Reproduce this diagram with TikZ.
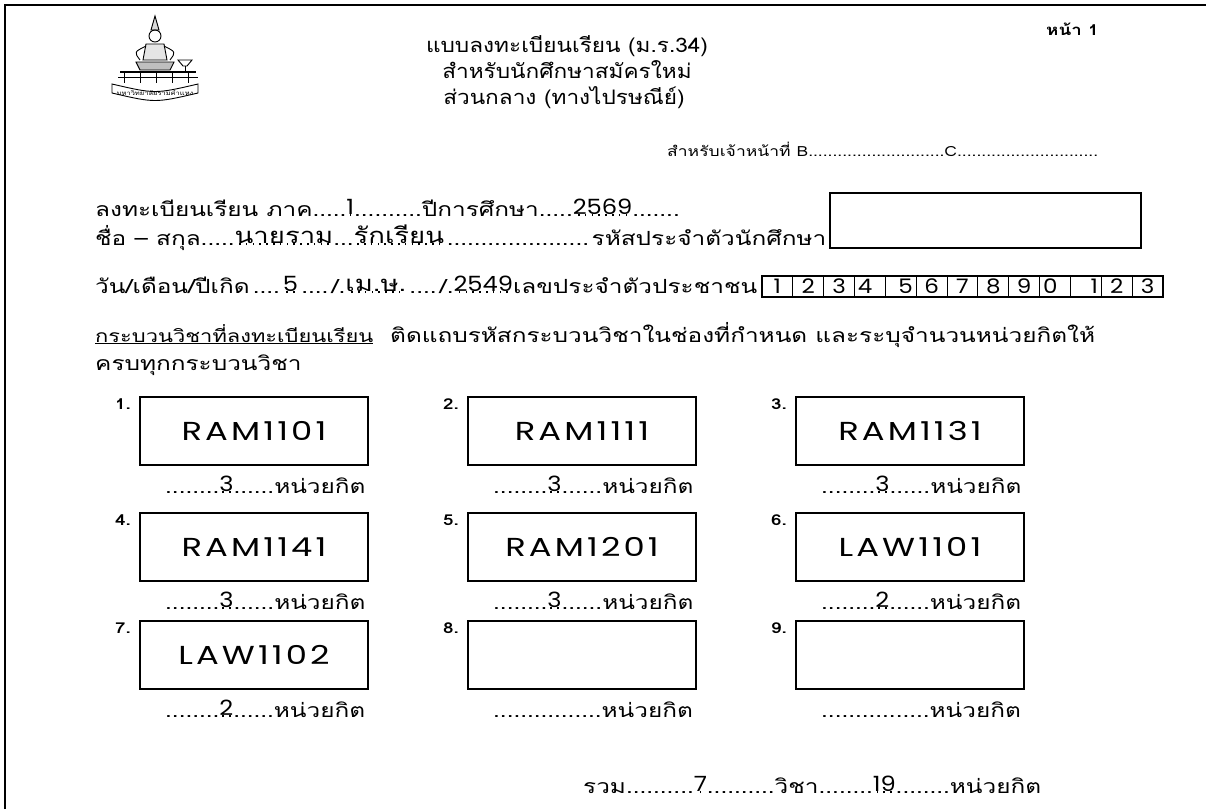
\documentclass[tikz,border=0pt]{standalone}
\usepackage{fontspec}
\setmainfont[Script=Thai, FakeStretch=1.25]{Loma}
\newfontfamily\titlefont[Script=Thai, FakeStretch=1.13]{Loma}
\newfontfamily\valfont[FakeStretch=1.15]{Poppins}
\newfontfamily\codefont[FakeStretch=1.3, LetterSpace=12]{Poppins}
\usetikzlibrary{positioning}

\newsavebox\dotsbox
% value typed over a dotted line
\newcommand{\ondots}[1]{\sbox\dotsbox{\raisebox{1.5pt}{#1}}\rlap{\hbox to \wd\dotsbox{\cleaders\hbox to 6.8pt{\hss\rule{1.6pt}{1.6pt}\hss}\hfill}}\usebox\dotsbox}
\newcommand{\dotrun}{\cleaders\hbox{.}\hfill}
\newcommand{\valu}[1]{{\valfont\fontsize{21}{23}\selectfont #1}}
\newcommand{\bigthai}[1]{{\fontsize{22}{24}\selectfont #1}}
\def\nocr{-}

\tikzset{
  txt/.style={anchor=base west, inner sep=0pt, font=\fontsize{19.5}{22}\selectfont},
  titletxt/.style={anchor=base, inner sep=0pt, font=\titlefont\fontsize{20}{22}\selectfont},
  coursebox/.style={draw, line width=1.6pt, minimum width=228, minimum height=68, inner sep=0pt, font=\codefont\fontsize{26}{28}\selectfont},
  numlabel/.style={anchor=north east, inner sep=0pt, font=\bfseries\fontsize{15}{17}\selectfont},
  digitcell/.style={draw, line width=1.1pt, minimum width=30.85, minimum height=21, inner sep=0pt, font=\valfont\fontsize{20}{20}\selectfont},
}

\begin{document}
\begin{tikzpicture}[x=1pt, y=-1pt]
\useasboundingbox (0,0) rectangle (1206,809);
% frame of the page
\draw[line width=2.2pt] (5,809) -- (5,5) -- (1206,5);

% university emblem
\begin{scope}[line width=0.9pt]
  \draw[fill=black!15] (155,16) -- (151,30) -- (159,30) -- cycle;
  \draw (155,36) circle (6);
  \draw[fill=black!10] (146,44) -- (143,60) -- (167,60) -- (164,44) -- cycle;
  \draw (146,46) .. controls (134,52) .. (140,60);
  \draw (164,46) .. controls (176,52) .. (170,60);
  \draw[fill=black!25] (136,62) -- (174,62) -- (170,70) -- (140,70) -- cycle;
  \draw (178,60) -- (192,60) -- (187,66) -- (183,66) -- cycle;
  \draw (185,66) -- (185,72);
  \draw[line width=1.3pt] (120,72) -- (196,72);
  \draw (118,77) -- (198,77);
  \foreach \px in {124,140,156,172,188}
    \draw (\px,72) -- (\px,83);
  \draw (112,84) .. controls (155,94) .. (198,84) -- (198,93) .. controls (155,103) .. (112,93) -- cycle;
\end{scope}
\node[inner sep=0pt, font=\fontsize{6}{7}\selectfont] (banner) at (155,93) {มหาวิทยาลัยรามคำแหง};

% heading
\node[txt, font=\bfseries\fontsize{15}{17}\selectfont] (page) at (1046,35) {หน้า 1};
\node[titletxt] (title1) at (567,52) {แบบลงทะเบียนเรียน (ม.ร.34)};
\node[titletxt] (title2) at (567,78) {สำหรับนักศึกษาสมัครใหม่};
\node[titletxt] (title3) at (564,104) {ส่วนกลาง (ทางไปรษณีย์)};
\node[txt, font=\fontsize{14}{16}\selectfont] (staff) at (667,156) {สำหรับเจ้าหน้าที่ B............................C.............................};

% student details
\node[txt] (term) at (95,216) {ลงทะเบียนเรียน ภาค.....\ondots{\valu{1}}..........ปีการศึกษา.....\ondots{\valu{2569}}.......};
\node[txt] (name) at (95,245) {\hbox to 731pt{ชื่อ – สกุล.....\ondots{\bigthai{นายราม}}...\ondots{\bigthai{รักเรียน}}\dotrun รหัสประจำตัวนักศึกษา}};
\node[draw, line width=1.6pt, minimum width=311, minimum height=55, inner sep=0pt] (idbox) at (985.5,220.5) {};
\node[txt] (birth) at (95,293) {\hbox to 662pt{วัน/เดือน/ปีเกิด\dotrun\ondots{\valu{5}}\dotrun/.\ondots{\bigthai{เม.ษ.}}\dotrun/.\ondots{\valu{2549}}เลขประจำตัวประชาชน}};
\foreach \d/\al [count=\k from 0] in {1/c,2/c,3/c,4/l,5/r,6/c,7/c,8/c,9/c,0/l,1/r,2/c,3/c}
  \node[digitcell] (id\k) at (777.4+30.85*\k,286.5) {\makebox[24pt][\al]{\d}};

% courses
\node[txt, font=\fontsize{17.5}{20}\selectfont] (coursehead) at (95,342) {\underline{กระบวนวิชาที่ลงทะเบียนเรียน}};
\node[txt] (note) at (390,342) {ติดแถบรหัสกระบวนวิชาในช่องที่กำหนด และระบุจำนวนหน่วยกิตให้};
\node[txt] (note2) at (95,370) {ครบทุกกระบวนวิชา};
\foreach \n/\code/\cred/\cx/\cy in {1/RAM1101/3/140/397, 2/RAM1111/3/468/397, 3/RAM1131/3/796/397,
    4/RAM1141/3/140/513, 5/RAM1201/3/468/513, 6/LAW1101/2/796/513,
    7/LAW1102/2/140/621, 8/{}/-/468/621, 9/{}/-/796/621}{
  \node[coursebox] (c\n) at (\cx+114,\cy+34) {\code};
  \node[numlabel] (n\n) at (\cx-9,\cy+2) {\n.};
  \node[txt] (u\n) at (\cx+25,\cy+96) {\ifx\cred\nocr................\else........\ondots{\valu{\cred}}......\fi หน่วยกิต};
}

% total
\node[txt] (total) at (583,793) {รวม..........\ondots{\valu{7}}..........วิชา........\ondots{\valu{19}}........หน่วยกิต};
\end{tikzpicture}
\end{document}
